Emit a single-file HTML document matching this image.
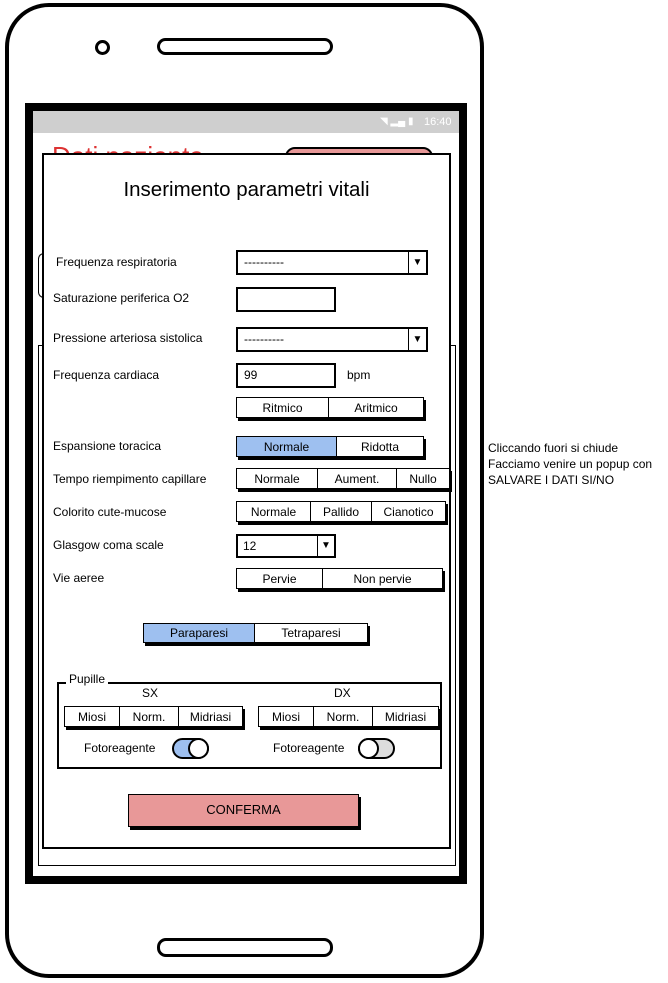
<!DOCTYPE html>
<html><head><meta charset="utf-8"><style>
*{box-sizing:border-box;margin:0;padding:0}
body{width:668px;height:983px;background:#fff;position:relative;overflow:hidden;font-family:"Liberation Sans",sans-serif;font-size:12px;color:#000}
.a{position:absolute}
.lbl{position:absolute;font-size:12px;line-height:14px;white-space:nowrap}
.seg{position:absolute;border:1.5px solid #000;box-shadow:2px 3px 0 #000;display:flex;background:#fff}
.seg div{border-right:1.5px solid #000;text-align:center;font-size:12px;display:flex;align-items:center;justify-content:center}
.seg div:last-child{border-right:none}
.dd{position:absolute;border:2px solid #000;background:#fff}
.tg{position:absolute;border:2px solid #000;border-radius:11px}
.tg i{position:absolute;top:-2px;width:21px;height:21px;border:2px solid #000;border-radius:50%;background:#fff}
</style></head><body>
<!-- phone -->
<div class="a" style="left:5px;top:3px;width:479px;height:975px;border:4px solid #000;border-radius:44px"></div>
<div class="a" style="left:95px;top:40px;width:15px;height:15px;border:3px solid #000;border-radius:50%"></div>
<div class="a" style="left:157px;top:38px;width:176px;height:17px;border:3px solid #000;border-radius:9px"></div>
<div class="a" style="left:157px;top:938px;width:176px;height:19px;border:3px solid #000;border-radius:9px"></div>
<!-- screen -->
<div class="a" style="left:25px;top:103px;width:442px;height:781px;border:8px solid #000"></div>
<div class="a" style="left:33px;top:111px;width:426px;height:22px;background:#cfcfcf"></div>
<div class="lbl" style="left:424px;top:115px;color:#fff;font-size:11px">16:40</div>
<div class="lbl" style="left:380px;top:115px;color:#fff;font-size:10px">◥ ▂▄ ▮</div>
<div class="a" style="left:52px;top:141px;height:12px;overflow:hidden;width:230px"><div class="lbl" style="left:0;top:0;color:#d33;font-size:26px;line-height:30px">Dati paziente</div></div>
<div class="a" style="left:285px;top:147px;width:148px;height:20px;border:2px solid #000;border-radius:10px;background:#e89898"></div>
<div class="a" style="left:38px;top:253px;width:10px;height:45px;border:1.5px solid #000;border-right:none;border-radius:6px 0 0 6px"></div>
<div class="a" style="left:38px;top:345px;width:418px;height:521px;border:1.5px solid #000;border-radius:0"></div>
<!-- dialog -->
<div class="a" style="left:42px;top:153px;width:409px;height:696px;border:2px solid #000;background:#fff"></div>
<div class="lbl" style="left:42px;top:179px;width:409px;text-align:center;font-size:20.5px;line-height:22px">Inserimento parametri vitali</div>

<div class="lbl" style="left:56px;top:255px">Frequenza respiratoria</div>
<div class="dd" style="left:236px;top:250px;width:192px;height:25px"><span class="lbl" style="left:6px;top:3px">----------</span><div class="a" style="left:170px;top:0;width:18px;height:21px;border-left:1.5px solid #000;text-align:center;font-size:10px;line-height:21px">▼</div></div>
<div class="lbl" style="left:53px;top:291px">Saturazione periferica O2</div>
<div class="dd" style="left:236px;top:287px;width:100px;height:25px"></div>
<div class="lbl" style="left:53px;top:331px">Pressione arteriosa sistolica</div>
<div class="dd" style="left:236px;top:327px;width:192px;height:25px"><span class="lbl" style="left:6px;top:3px">----------</span><div class="a" style="left:170px;top:0;width:18px;height:21px;border-left:1.5px solid #000;text-align:center;font-size:10px;line-height:21px">▼</div></div>
<div class="lbl" style="left:53px;top:368px">Frequenza cardiaca</div>
<div class="dd" style="left:236px;top:363px;width:100px;height:25px"><span class="lbl" style="left:6px;top:3px">99</span></div>
<div class="lbl" style="left:347px;top:368px">bpm</div>

<div class="seg" style="left:236px;top:397px;width:188px;height:21px"><div style="width:92px">Ritmico</div><div style="flex:1">Aritmico</div></div>
<div class="lbl" style="left:53px;top:439px">Espansione toracica</div>
<div class="seg" style="left:236px;top:436px;width:188px;height:21px"><div style="width:100px;background:#9ec0f0">Normale</div><div style="flex:1">Ridotta</div></div>
<div class="lbl" style="left:53px;top:472px">Tempo riempimento capillare</div>
<div class="seg" style="left:236px;top:468px;width:214px;height:21px"><div style="width:81px">Normale</div><div style="width:79px">Aument.</div><div style="flex:1">Nullo</div></div>
<div class="lbl" style="left:53px;top:505px">Colorito cute-mucose</div>
<div class="seg" style="left:236px;top:501px;width:210px;height:21px"><div style="width:74px">Normale</div><div style="width:61px">Pallido</div><div style="flex:1">Cianotico</div></div>
<div class="lbl" style="left:53px;top:538px">Glasgow coma scale</div>
<div class="dd" style="left:236px;top:534px;width:100px;height:24px"><span class="lbl" style="left:5px;top:3px">12</span><div class="a" style="left:79px;top:0;width:17px;height:20px;border-left:1.5px solid #000;text-align:center;font-size:10px;line-height:20px">▼</div></div>
<div class="lbl" style="left:53px;top:571px">Vie aeree</div>
<div class="seg" style="left:236px;top:568px;width:207px;height:21px"><div style="width:86px">Pervie</div><div style="flex:1">Non pervie</div></div>

<div class="seg" style="left:143px;top:623px;width:225px;height:20px"><div style="width:111px;background:#9ec0f0">Paraparesi</div><div style="flex:1">Tetraparesi</div></div>

<div class="a" style="left:57px;top:682px;width:385px;height:87px;border:2px solid #000"></div>
<div class="lbl" style="left:66px;top:672px;background:#fff;padding:0 3px">Pupille</div>
<div class="lbl" style="left:142px;top:686px">SX</div>
<div class="lbl" style="left:334px;top:686px">DX</div>
<div class="seg" style="left:64px;top:706px;width:179px;height:21px"><div style="width:55px">Miosi</div><div style="width:59px">Norm.</div><div style="flex:1">Midriasi</div></div>
<div class="seg" style="left:258px;top:706px;width:181px;height:21px"><div style="width:55px">Miosi</div><div style="width:59px">Norm.</div><div style="flex:1">Midriasi</div></div>
<div class="lbl" style="left:84px;top:741px">Fotoreagente</div>
<div class="tg" style="left:172px;top:738px;width:37px;height:21px;background:#9ec0f0"><i style="left:14px"></i></div>
<div class="lbl" style="left:273px;top:741px">Fotoreagente</div>
<div class="tg" style="left:358px;top:738px;width:37px;height:21px;background:#ddd"><i style="left:-2px"></i></div>

<div class="a" style="left:128px;top:794px;width:231px;height:33px;border:1.5px solid #000;box-shadow:2px 3px 0 #000;background:#e89898;text-align:center;line-height:30px;font-size:13px">CONFERMA</div>

<div class="lbl" style="left:488px;top:440px;line-height:16px">Cliccando fuori si chiude<br>Facciamo venire un popup con<br>SALVARE I DATI SI/NO</div>
</body></html>
